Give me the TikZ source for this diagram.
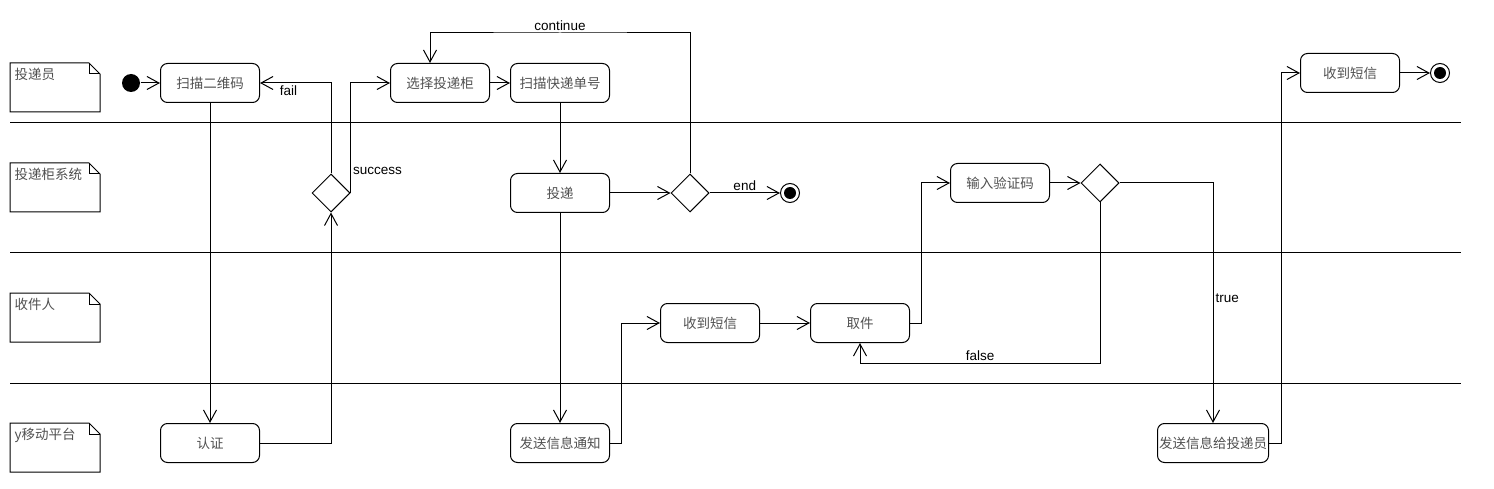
\documentclass[tikz,border=0pt]{standalone}
\usepackage{fontspec}
\setmainfont{Liberation Sans}
\newfontfamily\cjk{Noto Sans CJK SC}
\usetikzlibrary{arrows.meta, positioning, shapes.geometric}
\definecolor{txtgray}{RGB}{80,80,80}

\begin{document}
\begin{tikzpicture}[x=1pt, y=-1pt, node distance=120pt, on grid, line width=1pt,
    >={Straight Barb[length=12pt,width=13pt]},
    activity/.style={draw, rounded corners=7pt, minimum width=99pt, minimum height=39pt,
      inner sep=1pt, font=\cjk\fontsize{13.5}{15}\selectfont, text=txtgray},
    decision/.style={draw, diamond, aspect=1, minimum width=38pt, minimum height=38pt, inner sep=0pt},
    initnode/.style={circle, fill, minimum size=18pt, inner sep=0pt},
    finalnode/.style={circle, draw, minimum size=19pt, inner sep=0pt,
      path picture={\fill (path picture bounding box.center) circle (6pt);}},
    lbl/.style={font=\fontsize{13.5}{15}\selectfont, inner sep=2pt}]
  \useasboundingbox (0,0) rectangle (1494,489);

  % lanes
  \foreach \ly/\lname in {63/投递员, 163/投递柜系统, 293/收件人, 423/y移动平台} {
    \draw (10,\ly) -- (89,\ly) -- (100,\ly+11) -- (100,\ly+49) -- (10,\ly+49) -- cycle;
    \draw (89,\ly) -- (89,\ly+11) -- (100,\ly+11);
    \node[anchor=north west, inner sep=0pt, font=\cjk\fontsize{13.5}{15}\selectfont, text=txtgray]
      (lane-\ly) at (14,\ly+5) {\lname};
  }
  \foreach \sy in {123,253,383}
    \draw (10,\sy) -- (1461,\sy);

  % 投递员
  \node[initnode] (init) at (131,83) {};
  \node[activity] (scan) at (210,83) {扫描二维码};
  \node[activity] (select) at (440,83) {选择投递柜};
  \node[activity, right=of select] (scanno) {扫描快递单号};
  \node[activity] (sms2) at (1350,73) {收到短信};
  \node[finalnode, right=90pt of sms2] (end2) {};

  % 投递柜系统
  \node[decision] (chk) at (331,193) {};
  \node[activity, below=110pt of scanno] (deliver) {投递};
  \node[decision, right=130pt of deliver] (d2) {};
  \node[finalnode, right=100pt of d2] (end1) {};
  \node[activity] (code) at (1000,183) {输入验证码};
  \node[decision, right=100pt of code] (d3) {};

  % 收件人
  \node[activity] (recv) at (710,323) {收到短信};
  \node[activity, right=150pt of recv] (pick) {取件};

  % 移动平台
  \node[activity] (auth) at (210,443) {认证};
  \node[activity, below=250pt of deliver] (notify) {发送信息通知};
  \node[activity, minimum width=111pt] (sendc) at (1213,443) {发送信息给投递员};

  \coordinate (loop) at (560,33);

  \draw[->] (init) -- (scan);
  \draw[->] (scan) -- (auth);
  \draw[->] (auth) -| (chk);
  \draw[->] (chk.north) |- node[lbl, pos=0.8, below] {fail} (scan.east);
  \draw[->] (chk.east) |- node[lbl, pos=0.1, right] {success} (select.west);
  \draw[->] (select) -- (scanno);
  \draw[->] (scanno) -- (deliver);
  \draw[->] (deliver) -- (d2);
  \draw[->] (d2) -- node[lbl, above] {end} (end1);
  \draw[->] (d2.north) |- (loop) node[lbl, above] {continue} -| ([xshift=-10pt]select.north);
  \draw[->] (deliver) -- (notify);
  \draw[->] (notify.east) -- ++(11,0) |- (recv.west);
  \draw[->] (recv) -- (pick);
  \draw[->] (pick.east) -- ++(11,0) |- (code.west);
  \draw[->] (code) -- (d3);
  \draw[->] (d3.south) -- ++(0,161) -| node[lbl, pos=0.25, above] {false} (pick.south);
  \draw[->] (d3.east) -| node[lbl, pos=0.74, right] {true} (sendc.north);
  \draw[->] (sendc.east) -- ++(12,0) |- (sms2.west);
  \draw[->] (sms2) -- (end2);
\end{tikzpicture}
\end{document}
